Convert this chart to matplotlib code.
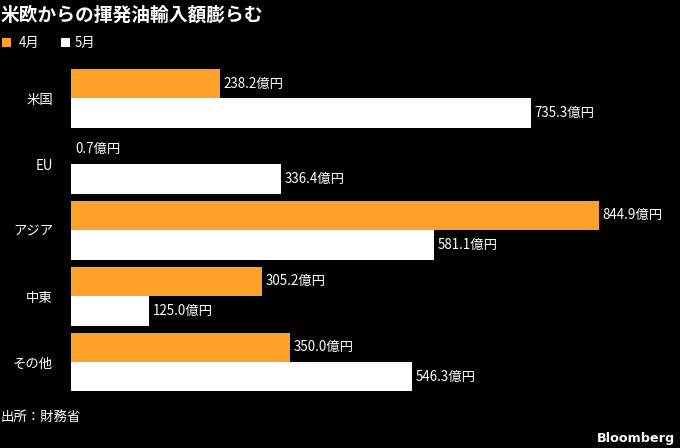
import matplotlib
matplotlib.use("Agg")
import matplotlib.pyplot as plt
from matplotlib.patches import Rectangle

plt.rcParams['font.family'] = ['Noto Sans CJK JP', 'DejaVu Sans']

categories = ["米国", "EU", "アジア", "中東", "その他"]
april = [238.2, 0.7, 844.9, 305.2, 350.0]
may = [735.3, 336.4, 581.1, 125.0, 546.3]
series_names = ["4月", "5月"]

ORANGE = "#FFA12B"
WHITE = "#FFFFFF"
BG = "#000000"
FS = 9.6

W, H = 680, 448
fig = plt.figure(figsize=(W / 100, H / 100), dpi=100, facecolor=BG)
ax_left, ax_right = 71, 680
ax_top, ax_bottom = 65.3, 395
ax = fig.add_axes([ax_left / W, 1 - ax_bottom / H, (ax_right - ax_left) / W, (ax_bottom - ax_top) / H])
ax.set_facecolor(BG)

px_per_unit = (599 - 71) / 844.9
ax.set_xlim(0, (ax_right - ax_left) / px_per_unit)
ax.set_ylim(len(categories) - 0.5, -0.5)

h = 0.445
off = 0.224
ys = list(range(len(categories)))
ax.barh([y - off for y in ys], april, height=h, color=ORANGE, linewidth=0)
ax.barh([y + off for y in ys], may, height=h, color=WHITE, linewidth=0)

for y, v in zip(ys, april):
    ax.annotate(f"{v:.1f}億円", (v, y - off), xytext=(2.5, 0), textcoords="offset points",
                ha="left", va="center", color="white", fontsize=FS)
for y, v in zip(ys, may):
    ax.annotate(f"{v:.1f}億円", (v, y + off), xytext=(2.5, 0), textcoords="offset points",
                ha="left", va="center", color="white", fontsize=FS)

ax.set_yticks(ys)
ax.set_yticklabels(categories, color="white", fontsize=FS)
ax.tick_params(axis="y", length=0, pad=13)
ax.set_xticks([])
for s in ax.spines.values():
    s.set_visible(False)

# Title
fig.text(1 / W, 1 - 15 / H, "米欧からの揮発油輸入額膨らむ", color="white", fontsize=13.5,
         fontweight="bold", ha="left", va="center")

# Legend
leg_y = 43
fig.patches.append(Rectangle((2 / W, 1 - (leg_y + 4.5) / H), 9 / W, 9 / H, transform=fig.transFigure,
                             color=ORANGE, linewidth=0))
fig.text(19 / W, 1 - leg_y / H, series_names[0], color="white", fontsize=FS, ha="left", va="center")
fig.patches.append(Rectangle((61 / W, 1 - (leg_y + 4.5) / H), 9 / W, 9 / H, transform=fig.transFigure,
                             color=WHITE, linewidth=0))
fig.text(75 / W, 1 - leg_y / H, series_names[1], color="white", fontsize=FS, ha="left", va="center")

# Footer
fig.text(1 / W, 1 - 417 / H, "出所：財務省", color="white", fontsize=FS, ha="left", va="center")
fig.text(675 / W, 1 - 438 / H, "Bloomberg", color="white", fontsize=9.2, fontweight="bold",
         ha="right", va="center", family=["DejaVu Sans"])

fig.savefig("out.png", dpi=100, facecolor=BG)
